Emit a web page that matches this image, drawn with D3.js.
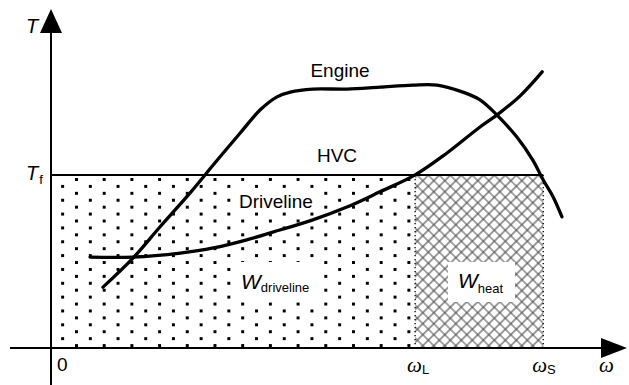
<!DOCTYPE html>
<html>
<head>
<meta charset="utf-8">
<script src="https://cdn.jsdelivr.net/npm/d3@7"></script>
<style>
  html, body { margin: 0; padding: 0; background: #fff; }
  svg { display: block; }
  text { font-family: "Liberation Sans", Arial, sans-serif; fill: #000; }
  .sym { font-family: "Liberation Serif", "Times New Roman", serif; font-style: italic; }
  .it { font-style: italic; }
</style>
</head>
<body>
<svg id="chart" width="629" height="385"></svg>
<script>
// Engine torque curve (speed, torque) in relative units
const engineOmega  = [9.45, 14.9, 19.8, 25.3, 28.0, 30.7, 34.4, 38.0, 41.1, 43.5, 47.6, 53.8, 59.8, 65.8, 70.2, 74.9, 78.0, 81.1, 84.7, 87.6, 89.5, 91.3, 92.9];
const engineTorque = [18.0, 26.6, 35.8, 45.9, 51.2, 56.5, 63.6, 70.4, 74.3, 75.7, 76.6, 76.6, 77.2, 77.8, 77.8, 75.7, 73.4, 68.9, 62.4, 55.6, 49.7, 44.7, 38.8];

// Driveline load curve
const drivelineOmega  = [7.1, 14.9, 23.5, 29.5, 35.6, 41.6, 47.6, 53.8, 59.8, 66.2, 72.0, 78.0, 81.3, 85.3, 89.3];
const drivelineTorque = [26.9, 26.9, 28.1, 29.6, 32.0, 34.9, 37.9, 41.7, 46.2, 51.2, 57.7, 65.4, 69.2, 74.6, 81.7];

// Characteristic levels
const Tf = 51.2;       // HVC torque limit
const omegaL = 66.2;   // lock-up speed
const omegaS = 89.5;   // slip end speed

const curveLabels = ["Engine", "HVC", "Driveline"];
const xTickLabels = ["0", "L", "S"];

const svg = d3.select("#chart");
const x = d3.scaleLinear().domain([0, 100]).range([51, 601]);
const y = d3.scaleLinear().domain([0, 100]).range([348, 10]);

const defs = svg.append("defs");

// Staggered dot fill for the driveline work area
const dots = defs.append("pattern")
  .attr("id", "dots").attr("patternUnits", "userSpaceOnUse")
  .attr("x", 75).attr("y", 178).attr("width", 27.7).attr("height", 13.84);
dots.append("rect").attr("x", 0).attr("y", 0).attr("width", 2.5).attr("height", 2.5)
  .attr("fill", "#000").attr("shape-rendering", "crispEdges");
dots.append("rect").attr("x", 13.85).attr("y", 6.92).attr("width", 2.5).attr("height", 2.5)
  .attr("fill", "#000").attr("shape-rendering", "crispEdges");

// Diagonal cross-hatch for the heat area
const hs = 11 / Math.SQRT2;
const hatch = defs.append("pattern")
  .attr("id", "hatch").attr("patternUnits", "userSpaceOnUse")
  .attr("x", x(omegaL)).attr("y", y(Tf))
  .attr("width", hs).attr("height", hs)
  .attr("patternTransform", "rotate(45)");
hatch.append("path")
  .attr("d", `M0,${hs/2}H${hs}M${hs/2},0V${hs}`)
  .attr("stroke", "#444").attr("stroke-width", 1.05).attr("fill", "none");

// Work areas
svg.append("rect")
  .attr("x", x(0)).attr("y", y(Tf))
  .attr("width", x(omegaL) - x(0) - 3).attr("height", y(0) - y(Tf))
  .attr("fill", "url(#dots)");
svg.append("rect")
  .attr("x", x(omegaL)).attr("y", y(Tf))
  .attr("width", x(omegaS) - x(omegaL)).attr("height", y(0) - y(Tf))
  .attr("fill", "url(#hatch)");

// Dotted boundaries at omegaL and omegaS
[omegaL, omegaS].forEach(w => {
  svg.append("line")
    .attr("x1", x(w)).attr("x2", x(w))
    .attr("y1", y(Tf)).attr("y2", y(0))
    .attr("stroke", "#000").attr("stroke-width", 1.3)
    .attr("stroke-dasharray", "1.3,2.7");
});

// White backings for the in-area labels
svg.append("rect").attr("x", 233).attr("y", 262).attr("width", 86).attr("height", 40).attr("fill", "#fff");
svg.append("rect").attr("x", 448).attr("y", 262).attr("width", 67).attr("height", 40).attr("fill", "#fff");
svg.append("rect").attr("x", 235).attr("y", 190).attr("width", 82).attr("height", 22).attr("fill", "#fff");

// HVC torque line
svg.append("line")
  .attr("x1", x(0)).attr("x2", x(omegaS))
  .attr("y1", y(Tf)).attr("y2", y(Tf))
  .attr("stroke", "#000").attr("stroke-width", 2);

// Axes with arrow heads
svg.append("line").attr("x1", x(0)).attr("x2", x(0)).attr("y1", 385).attr("y2", 28)
  .attr("stroke", "#000").attr("stroke-width", 2);
svg.append("line").attr("x1", 10).attr("x2", 605).attr("y1", y(0)).attr("y2", y(0))
  .attr("stroke", "#000").attr("stroke-width", 2);
svg.append("path").attr("d", `M${x(0)},9L${x(0) - 11},33L${x(0) + 11},33Z`).attr("fill", "#000");
svg.append("path").attr("d", `M627,${y(0)}L601,${y(0) - 10}L601,${y(0) + 10}Z`).attr("fill", "#000");

// Curves
const line = d3.line().x(d => x(d[0])).y(d => y(d[1])).curve(d3.curveCatmullRom.alpha(0.5));
svg.append("path")
  .attr("d", line(d3.zip(engineOmega, engineTorque)))
  .attr("fill", "none").attr("stroke", "#000").attr("stroke-width", 3.3)
  .attr("stroke-linecap", "round").attr("stroke-linejoin", "round");
svg.append("path")
  .attr("d", line(d3.zip(drivelineOmega, drivelineTorque)))
  .attr("fill", "none").attr("stroke", "#000").attr("stroke-width", 3.3)
  .attr("stroke-linecap", "round").attr("stroke-linejoin", "round");

// Curve labels
svg.append("text").attr("x", 340).attr("y", 77).attr("text-anchor", "middle").attr("font-size", 19).text(curveLabels[0]);
svg.append("text").attr("x", 337).attr("y", 162).attr("text-anchor", "middle").attr("font-size", 19).text(curveLabels[1]);
svg.append("text").attr("x", 239).attr("y", 208).attr("font-size", 19).text(curveLabels[2]);

// Area labels
const wd = svg.append("text").attr("x", 241).attr("y", 289);
wd.append("tspan").attr("class", "it").attr("font-size", 21).text("W");
wd.append("tspan").attr("font-size", 13).attr("dy", 3).text("driveline");
const wh = svg.append("text").attr("x", 458).attr("y", 288);
wh.append("tspan").attr("class", "it").attr("font-size", 21).text("W");
wh.append("tspan").attr("font-size", 13).attr("dy", 5).text("heat");

// Axis labels
svg.append("text").attr("class", "it").attr("x", 26).attr("y", 33).attr("font-size", 20).text("T");
const tf = svg.append("text").attr("x", 26).attr("y", 180);
tf.append("tspan").attr("class", "it").attr("font-size", 20).text("T");
tf.append("tspan").attr("font-size", 13).attr("dy", 4).attr("dx", 1).text("f");

svg.append("text").attr("x", x(0) + 6).attr("y", 371).attr("font-size", 19).text(xTickLabels[0]);
const wl = svg.append("text").attr("x", x(omegaL) - 8).attr("y", 372);
wl.append("tspan").attr("class", "sym").attr("font-size", 21).text("ω");
wl.append("tspan").attr("font-size", 13).attr("dy", 2).text(xTickLabels[1]);
const ws = svg.append("text").attr("x", x(omegaS) - 11).attr("y", 372);
ws.append("tspan").attr("class", "sym").attr("font-size", 21).text("ω");
ws.append("tspan").attr("font-size", 13).attr("dy", 2).text(xTickLabels[2]);
svg.append("text").attr("class", "sym").attr("x", 599).attr("y", 372).attr("font-size", 21).text("ω");
</script>
</body>
</html>
